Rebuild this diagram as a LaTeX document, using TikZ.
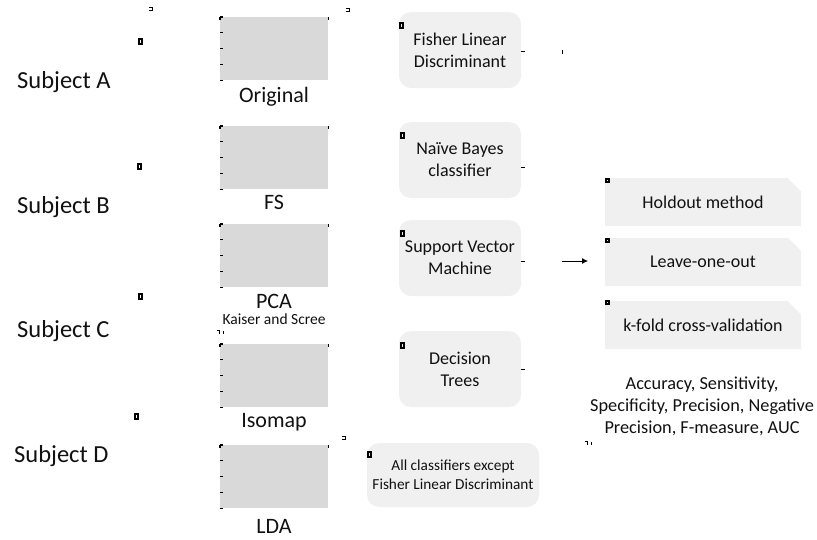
\documentclass[tikz,border=0pt]{standalone}
\usepackage{fontspec}
\setmainfont{Carlito}
\usetikzlibrary{shapes.misc,arrows.meta,calc}
\definecolor{imggray}{HTML}{D9D9D9}
\definecolor{boxgray}{HTML}{F0F0F0}
\definecolor{txt}{HTML}{111111}
\begin{document}
\begin{tikzpicture}[x=1pt,y=-1pt,
  imgbox/.style={fill=imggray, draw=none, minimum width=108pt, minimum height=63pt, inner sep=0pt, anchor=north west},
  lbl/.style={font=\fontsize{22}{24}\selectfont, text=txt, anchor=base, inner sep=0pt},
  sublbl/.style={font=\fontsize{15.5}{18}\selectfont, text=txt, anchor=base, inner sep=0pt},
  subj/.style={font=\fontsize{24.5}{26}\selectfont, text=txt, anchor=base west, inner sep=0pt},
  clf/.style={fill=boxgray, rounded corners=12pt, minimum width=122pt, minimum height=76pt, align=center, text=txt, font=\fontsize{18}{22}\selectfont, inner sep=0pt},
  valbox/.style={chamfered rectangle, chamfered rectangle corners=north east, chamfered rectangle xsep=7pt, chamfered rectangle ysep=7pt, fill=boxgray, minimum width=196pt, minimum height=48pt, inner sep=0pt, text=txt, font=\fontsize{18}{22}\selectfont},
  metric/.style={align=center, text=txt, font=\fontsize{18.3}{22}\selectfont, inner sep=0pt},
  tick/.style={line width=1.2pt, black},
  mk/.style={draw=black, line width=1.2pt},
]
\useasboundingbox (0,0) rectangle (817,539);

% subject labels
\node[subj] (sa) at (17,88) {Subject A};
\node[subj] (sb) at (17,213) {Subject B};
\node[subj] (sc) at (17,337) {Subject C};
\node[subj] (sd) at (14,462) {Subject D};

% image panels
\node[imgbox] (r1) at (220,17) {};
\node[imgbox] (r2) at (220,126) {};
\node[imgbox] (r3) at (220,224) {};
\node[imgbox] (r4) at (220,344) {};
\node[imgbox] (r5) at (220,445) {};
\foreach \r in {r1,r2,r3,r4,r5}{
  \foreach \t in {0,0.25,0.5,0.75,1}{
    \draw[tick] ($(\r.north west)!\t!(\r.south west)$) -- ++(3,0);
  }
  \draw[tick] (\r.north west) -- ++(0,3);
  \draw[tick] (\r.north east) -- ++(0,3);
}

\node[lbl] (l1) at (274,102) {Original};
\node[lbl] (l2) at (274,209) {FS};
\node[lbl] (l3) at (274,308) {PCA};
\node[sublbl] (l3b) at (274,324) {Kaiser and Scree};
\node[lbl] (l4) at (274,427) {Isomap};
\node[lbl] (l5) at (274,533) {LDA};

% classifiers
\node[clf] (c1) at (460,50) {Fisher Linear\\Discriminant};
\node[clf] (c2) at (460,160) {Naïve Bayes\\classifier};
\node[clf] (c3) at (460,258) {Support Vector\\Machine};
\node[clf] (c4) at (460,369) {Decision\\Trees};
\node[clf, minimum width=172pt, minimum height=64pt, font=\fontsize{15.3}{19}\selectfont] (c5) at (453,475) {All classifiers except\\Fisher Linear Discriminant};

% validation
\node[valbox] (v1) at (703,202) {Holdout method};
\node[valbox] (v2) at (703,262) {Leave-one-out};
\node[valbox] (v3) at (703,325) {k-fold cross-validation};
\node[metric] (m) at (702,406) {Accuracy, Sensitivity,\\Specificity, Precision, Negative\\Precision, F-measure, AUC};

% arrow
\coordinate (as) at (562,261);
\coordinate (ae) at (588,261);
\draw[line width=0.8pt, -{Latex[length=6pt,width=6pt]}] (as) -- (ae);

% small marks
\foreach \x/\y in {139/39, 138/164, 139/294, 135/414}{
  \draw[mk] (\x,\y) rectangle ++(3,5);
}
\foreach \x/\y in {400/23, 401/133, 401/231, 401/343, 368/452}{
  \draw[mk] (\x,\y) rectangle ++(3,5);
}
\foreach \x/\y in {606/179, 606/239, 606/301}{
  \draw[mk] (\x,\y) rectangle ++(3,3);
}
\foreach \y in {51,167,261,369}{
  \draw[line width=0.8pt] (521,\y) -- (525,\y);
}
\draw[line width=0.8pt] (562,50) -- (562,54);
\foreach \x/\y in {149/7, 346/8, 342/436}{
  \draw[line width=0.8pt] (\x,\y) -- ++(3,0) -- ++(0,3) -- ++(-3,0);
}
\foreach \x/\y in {217/330, 585/441}{
  \draw[line width=0.8pt] (\x,\y) -- ++(3,0) (\x+2,\y+1) -- ++(0,3) (\x+6,\y+1) -- ++(0,3);
}
\end{tikzpicture}
\end{document}
